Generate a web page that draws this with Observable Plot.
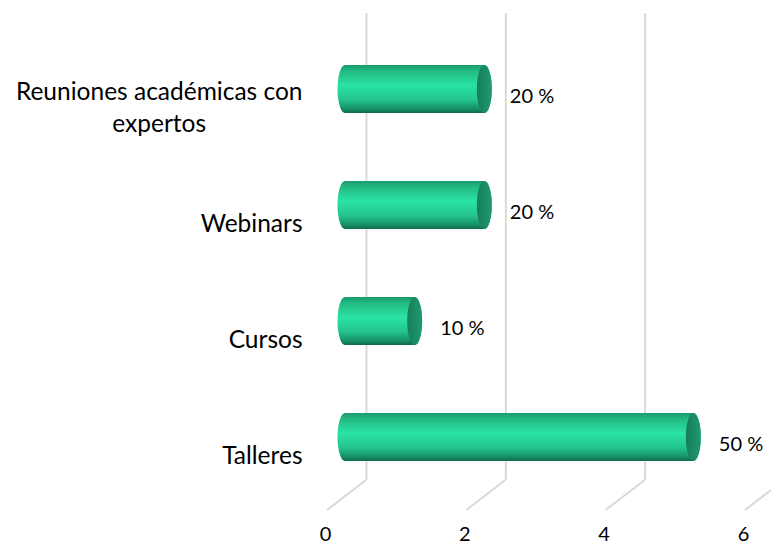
<!DOCTYPE html>
<html>
<head>
<meta charset="utf-8">
<script src="https://cdn.jsdelivr.net/npm/d3@7"></script>
<script src="https://cdn.jsdelivr.net/npm/@observablehq/plot@0.6"></script>
<style>
  html, body { margin: 0; padding: 0; background: #ffffff; }
  #chart { width: 771px; height: 548px; overflow: hidden; }
</style>
</head>
<body>
<div id="chart"></div>
<script>
// ---- data ----
const categories = ["Reuniones académicas con\nexpertos", "Webinars", "Cursos", "Talleres"];
const values = [2, 2, 1, 5];
const valueLabels = ["20 %", "20 %", "10 %", "50 %"];
const xTicks = [0, 2, 4, 6];

const data = categories.map((c, i) => ({category: c, value: values[i], label: valueLabels[i]}));

const W = 771, H = 548;
const mTop = 30, mBottom = 53, mLeft = 345, mRight = 8;
const backShift = 21, frontShift = -20, floorDepth = 30;
const capR = 7.5;
const font = "Lato, 'Open Sans', sans-serif";

const floorLines = (index, scales, values, dims) => {
  const g = d3.create("svg:g").attr("stroke", "#d9d9d9").attr("stroke-width", 2);
  const yBack = dims.height - dims.marginBottom - 15;
  for (const t of xTicks) {
    const px = scales.x(t);
    g.append("line")
      .attr("x1", px + backShift).attr("y1", yBack)
      .attr("x2", px + frontShift + 2).attr("y2", yBack + floorDepth);
  }
  return g.node();
};

const plot = Plot.plot({
  width: W,
  height: H,
  marginTop: mTop,
  marginBottom: mBottom,
  marginLeft: mLeft,
  marginRight: mRight,
  style: {fontFamily: font, background: "#ffffff", color: "#000000", overflow: "visible"},
  x: {domain: [0, 6], axis: null},
  y: {domain: categories, axis: null, padding: 0},
  marks: [
    // back wall gridlines
    Plot.ruleX(xTicks, {x: d => d, dx: backShift, insetTop: -17, insetBottom: 15, stroke: "#d9d9d9", strokeWidth: 2}),
    floorLines,
    // front tick labels
    Plot.text(xTicks, {x: d => d, text: d => String(d), frameAnchor: "bottom", dx: frontShift, dy: 45, fontSize: 20, fill: "#000"}),
    // cylinder body
    Plot.barX(data, {x1: 0, x2: "value", y: "category", fill: "url(#cylGrad)", insetTop: 34, insetBottom: 34, insetLeft: -capR, insetRight: -capR, rx: capR, ry: 24}),
    // cylinder end cap
    Plot.barX(data, {x1: "value", x2: "value", y: "category", fill: "url(#capGrad)", insetTop: 34, insetBottom: 34, insetLeft: -capR, insetRight: -capR, rx: capR, ry: 24}),
    // value labels
    Plot.text(data, {x: "value", y: "category", text: "label", dx: 25, dy: 7, textAnchor: "start", fontSize: 20, fill: "#000"}),
    // category labels
    Plot.text(data, {y: "category", text: "category", frameAnchor: "left", dx: -43, dy: 16, textAnchor: "end", fontSize: 24.5, lineHeight: 1.3, fill: "#000"})
  ]
});

// gradients for the cylinder look
const svg = d3.select(plot);
const defs = svg.insert("defs", ":first-child");
const g1 = defs.append("linearGradient").attr("id", "cylGrad").attr("x1", 0).attr("y1", 0).attr("x2", 0).attr("y2", 1);
[["0%", "#1b9a6d"], ["12%", "#22b982"], ["42%", "#2ae3a3"], ["72%", "#24c58d"], ["90%", "#18936a"], ["100%", "#0f6a4a"]]
  .forEach(([o, c]) => g1.append("stop").attr("offset", o).attr("stop-color", c));
const g2 = defs.append("linearGradient").attr("id", "capGrad").attr("x1", 0).attr("y1", 0).attr("x2", 1).attr("y2", 0);
[["0%", "#177d59"], ["50%", "#1b8b63"], ["100%", "#1f9a6e"]]
  .forEach(([o, c]) => g2.append("stop").attr("offset", o).attr("stop-color", c));

document.getElementById("chart").appendChild(plot);

// center multi-line category labels within their block, block right-aligned
svg.selectAll("text").each(function () {
  const tspans = this.querySelectorAll("tspan");
  if (tspans.length > 1) {
    let maxW = 0;
    tspans.forEach(t => { maxW = Math.max(maxW, t.getComputedTextLength()); });
    this.setAttribute("text-anchor", "middle");
    tspans.forEach(t => t.setAttribute("x", -maxW / 2));
  }
});
</script>
</body>
</html>
